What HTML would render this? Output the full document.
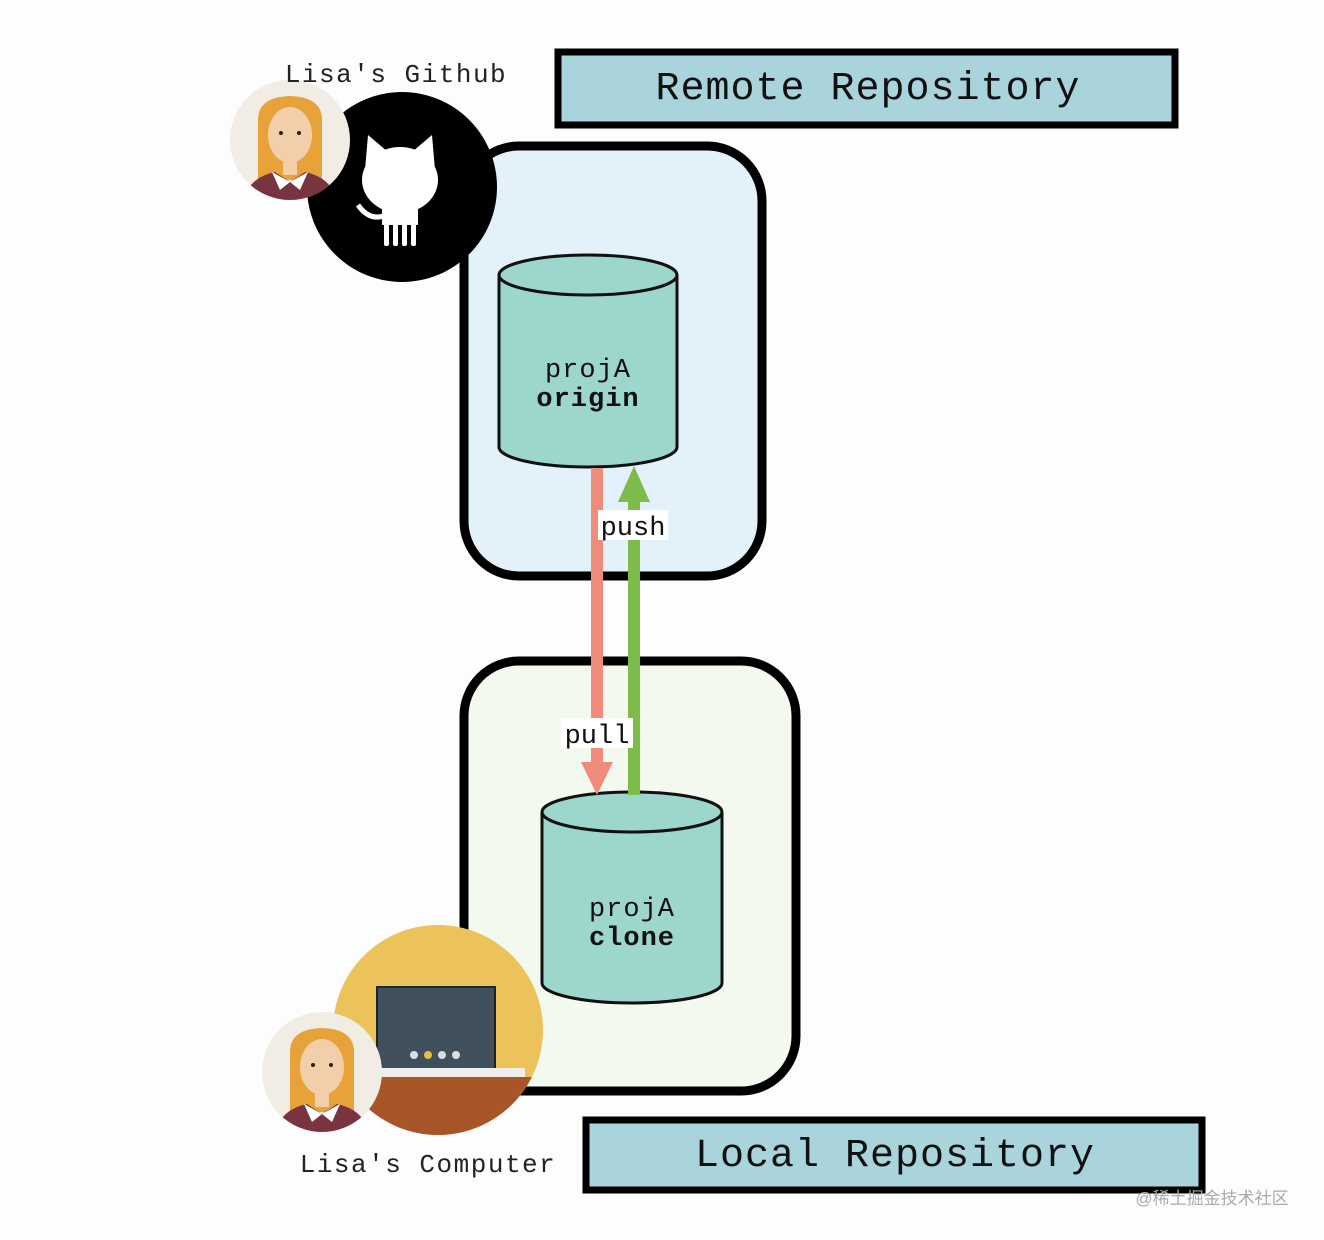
<!DOCTYPE html>
<html><head><meta charset="utf-8"><style>
html,body{margin:0;padding:0;background:#fff;}
svg{display:block;}
text{font-family:"Liberation Mono",monospace;}
</style></head><body>
<svg width="1324" height="1240" viewBox="0 0 1324 1240" xmlns="http://www.w3.org/2000/svg">
<rect x="0" y="0" width="1324" height="1240" fill="#fdfdfd"/>
<rect x="558" y="52" width="617" height="73" fill="#a9d4dc" stroke="#000" stroke-width="7"/>
<text x="868" y="99" font-size="40" text-anchor="middle" fill="#111" letter-spacing="1">Remote Repository</text>
<rect x="586" y="1120" width="616" height="70" fill="#a9d4dc" stroke="#000" stroke-width="7"/>
<text x="895" y="1166" font-size="40" text-anchor="middle" fill="#111" letter-spacing="1">Local Repository</text>
<rect x="464" y="146" width="298" height="430" rx="55" fill="#e3f1fb" stroke="#000" stroke-width="9"/>
<rect x="464" y="661" width="332" height="430" rx="55" fill="#f3f9ee" stroke="#000" stroke-width="9"/>
<path d="M499 275 L499 447 A89 20 0 0 0 677 447 L677 275" fill="#9dd6cc" stroke="#111" stroke-width="3"/>
<ellipse cx="588" cy="275" rx="89" ry="20" fill="#9dd6cc" stroke="#111" stroke-width="3"/>
<text x="588" y="377" font-size="27" text-anchor="middle" fill="#111" letter-spacing="1">projA</text>
<text x="588" y="406" font-size="27" font-weight="bold" text-anchor="middle" fill="#111" letter-spacing="1">origin</text>
<path d="M542 812 L542 983 A90 20 0 0 0 722 983 L722 812" fill="#9dd6cc" stroke="#111" stroke-width="3"/>
<ellipse cx="632" cy="812" rx="90" ry="20" fill="#9dd6cc" stroke="#111" stroke-width="3"/>
<text x="632" y="916" font-size="27" text-anchor="middle" fill="#111" letter-spacing="1">projA</text>
<text x="632" y="945" font-size="27" font-weight="bold" text-anchor="middle" fill="#111" letter-spacing="1">clone</text>
<rect x="591" y="468" width="12" height="295" fill="#ef8b7b"/>
<polygon points="581,762 613,762 597,795" fill="#ef8b7b"/>
<rect x="628" y="500" width="12" height="295" fill="#7dbb4b"/>
<polygon points="618,502 650,502 634,466" fill="#7dbb4b"/>
<rect x="598" y="510" width="70" height="30" fill="#fff"/>
<text x="633" y="535" font-size="27" text-anchor="middle" fill="#111">push</text>
<rect x="561" y="718" width="72" height="30" fill="#fff"/>
<text x="597" y="743" font-size="27" text-anchor="middle" fill="#111">pull</text>
<circle cx="402" cy="187" r="95" fill="#000"/>
<g fill="#fff">
<ellipse cx="400" cy="180" rx="38" ry="33"/>
<polygon points="365,170 368,135 388,152"/>
<polygon points="435,170 432,135 412,152"/>
<rect x="382" y="205" width="36" height="20"/>
<rect x="384" y="220" width="5" height="26" rx="2"/>
<rect x="393" y="220" width="5" height="26" rx="2"/>
<rect x="402" y="220" width="5" height="26" rx="2"/>
<rect x="411" y="220" width="5" height="26" rx="2"/>
<path d="M358 205 Q370 222 386 215" stroke="#fff" stroke-width="5" fill="none"/>
</g>
<g>
<circle cx="290" cy="140" r="60" fill="#f1ece4"/>
<clipPath id="c1"><circle cx="290" cy="140" r="60"/></clipPath>
<g clip-path="url(#c1)">
<path d="M258 180 L258 120 Q258 97 290 96 Q322 97 322 120 L322 180 Z" fill="#e8a23a"/>
<ellipse cx="290" cy="135" rx="22" ry="28" fill="#f2cfa8"/>
<rect x="283" y="155" width="14" height="20" fill="#f2cfa8"/>
<path d="M240 210 Q245 178 275 172 L290 182 L305 172 Q335 178 340 210 Z" fill="#7a3440"/>
<polygon points="272,172 290,182 280,190" fill="#fff"/>
<polygon points="308,172 290,182 300,190" fill="#fff"/>
<circle cx="281" cy="133" r="2" fill="#222"/><circle cx="299" cy="133" r="2" fill="#222"/>
</g>
</g>
<text x="396" y="82" font-size="26" text-anchor="middle" fill="#222" letter-spacing="1.5">Lisa's Github</text>
<circle cx="438" cy="1030" r="105" fill="#ecc25a"/>
<clipPath id="c2"><circle cx="438" cy="1030" r="105"/></clipPath>
<g clip-path="url(#c2)">
<rect x="330" y="1077" width="230" height="70" fill="#a8552a"/>
<rect x="377" y="987" width="118" height="82" fill="#3f4f5b" stroke="#222" stroke-width="2"/>
<rect x="380" y="1068" width="145" height="9" fill="#eeeeee"/>
<circle cx="414" cy="1055" r="4" fill="#ddd"/><circle cx="428" cy="1055" r="4" fill="#e6c040"/><circle cx="442" cy="1055" r="4" fill="#ddd"/><circle cx="456" cy="1055" r="4" fill="#ddd"/>
</g>
<g>
<circle cx="322" cy="1072" r="60" fill="#f1ece4"/>
<clipPath id="c3"><circle cx="322" cy="1072" r="60"/></clipPath>
<g clip-path="url(#c3)">
<path d="M290 1112 L290 1052 Q290 1029 322 1028 Q354 1029 354 1052 L354 1112 Z" fill="#e8a23a"/>
<ellipse cx="322" cy="1067" rx="22" ry="28" fill="#f2cfa8"/>
<rect x="315" y="1087" width="14" height="20" fill="#f2cfa8"/>
<path d="M272 1142 Q277 1110 307 1104 L322 1114 L337 1104 Q367 1110 372 1142 Z" fill="#7a3440"/>
<polygon points="304,1104 322,1114 312,1122" fill="#fff"/>
<polygon points="340,1104 322,1114 332,1122" fill="#fff"/>
<circle cx="313" cy="1065" r="2" fill="#222"/><circle cx="331" cy="1065" r="2" fill="#222"/>
</g>
</g>
<text x="428" y="1172" font-size="26" text-anchor="middle" fill="#222" letter-spacing="1.5">Lisa's Computer</text>
<text x="1212" y="1204" font-size="17" text-anchor="middle" fill="#aaa" style="font-family:'Liberation Sans','Noto Sans CJK SC',sans-serif">@稀土掘金技术社区</text>
</svg>
</body></html>
